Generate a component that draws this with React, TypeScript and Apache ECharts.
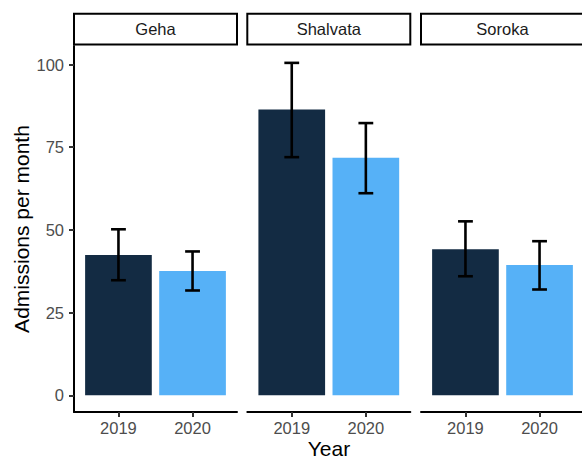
import React, { useEffect, useRef } from "react";
import * as echarts from "echarts";

const hospitals = ["Geha", "Shalvata", "Soroka"];
const years = ["2019", "2020"];
const admissions2019 = [42.4, 86.4, 44.2];
const admissions2020 = [37.6, 71.8, 39.4];
const lower2019 = [34.8, 72.0, 36.0];
const upper2019 = [50.2, 100.5, 52.6];
const lower2020 = [31.7, 61.1, 32.0];
const upper2020 = [43.5, 82.3, 46.6];
const yTicks = [0, 25, 50, 75, 100];
const yearColors = ["#132B43", "#56B1F7"];
const xTitle = "Year";
const yTitle = "Admissions per month";

const FONT = "'Liberation Sans', Arial, Helvetica, sans-serif";
const panelLefts = [74, 247.3, 421];
const panelWidth = 163;
const panelTop = 46;
const panelHeight = 366;
const unitPx = panelWidth / 2.2;

export default function App() {
  const ref = useRef<HTMLDivElement>(null);
  useEffect(() => {
    document.body.style.margin = "0";
    if (!ref.current) return;
    const chart = echarts.init(ref.current, null, { renderer: "svg" });

    const grid = hospitals.map((_, i) => ({
      left: panelLefts[i],
      top: panelTop,
      width: panelWidth,
      height: panelHeight,
      containLabel: false,
      outerBoundsMode: "none",
    }));

    const xAxis = hospitals.map((_, i) => ({
      type: "value",
      gridIndex: i,
      min: 0.4,
      max: 2.6,
      axisLine: { show: true, onZero: false, lineStyle: { color: "#000", width: 2 } },
      axisTick: {
        show: true,
        customValues: [1, 2],
        length: 5,
        lineStyle: { color: "#333333", width: 2 },
      },
      axisLabel: {
        customValues: [1, 2],
        formatter: (v: number) => years[Math.round(v) - 1] ?? "",
        color: "#4D4D4D",
        fontSize: 16.5,
        margin: 7,
        fontFamily: FONT,
      },
      splitLine: { show: false },
    }));

    const yAxis = hospitals.map((_, i) => ({
      type: "value",
      gridIndex: i,
      min: -5.03,
      max: 105.6,
      show: i === 0,
      axisLine: { show: true, onZero: false, lineStyle: { color: "#000", width: 2 } },
      axisTick: {
        show: true,
        customValues: yTicks,
        length: 5,
        lineStyle: { color: "#333333", width: 2 },
      },
      axisLabel: {
        customValues: yTicks,
        color: "#4D4D4D",
        fontSize: 16.5,
        margin: 10,
        fontFamily: FONT,
      },
      splitLine: { show: false },
    }));

    const barSeries = hospitals.map((_, i) => ({
      type: "bar",
      xAxisIndex: i,
      yAxisIndex: i,
      z: 2,
      barWidth: unitPx * 0.9,
      data: [
        { value: [1, admissions2019[i]], itemStyle: { color: yearColors[0] } },
        { value: [2, admissions2020[i]], itemStyle: { color: yearColors[1] } },
      ],
    }));

    const errSeries = hospitals.map((_, i) => ({
      type: "custom",
      xAxisIndex: i,
      yAxisIndex: i,
      z: 5,
      encode: { x: 0, y: [1, 2] },
      data: [
        [1, lower2019[i], upper2019[i]],
        [2, lower2020[i], upper2020[i]],
      ],
      renderItem: (_params: any, api: any) => {
        const x = api.value(0);
        const lo = api.value(1);
        const hi = api.value(2);
        const top = api.coord([x, hi]);
        const bot = api.coord([x, lo]);
        const half = api.size([0.1, 0])[0];
        const style = { stroke: "#000", lineWidth: 2.6, fill: "none" };
        return {
          type: "group",
          children: [
            { type: "line", shape: { x1: top[0], y1: top[1], x2: bot[0], y2: bot[1] }, style },
            { type: "line", shape: { x1: top[0] - half, y1: top[1], x2: top[0] + half, y2: top[1] }, style },
            { type: "line", shape: { x1: bot[0] - half, y1: bot[1], x2: bot[0] + half, y2: bot[1] }, style },
          ],
        };
      },
    }));

    const graphic: any[] = [];
    hospitals.forEach((h, i) => {
      graphic.push({
        type: "rect",
        shape: { x: panelLefts[i], y: 13.7, width: panelWidth, height: 30.8 },
        style: { fill: "#fff", stroke: "#000", lineWidth: 2 },
        silent: true,
      });
      graphic.push({
        type: "text",
        x: panelLefts[i] + panelWidth / 2,
        y: 29.3,
        style: {
          text: h,
          fill: "#1A1A1A",
          font: `16.5px ${FONT}`,
          textAlign: "center",
          textVerticalAlign: "middle",
        },
        silent: true,
      });
    });
    graphic.push({
      type: "text",
      x: 329,
      y: 448,
      style: {
        text: xTitle,
        fill: "#000",
        font: `21px ${FONT}`,
        textAlign: "center",
        textVerticalAlign: "middle",
      },
      silent: true,
    });
    graphic.push({
      type: "text",
      x: 21,
      y: 229,
      rotation: Math.PI / 2,
      style: {
        text: yTitle,
        fill: "#000",
        font: `21px ${FONT}`,
        textAlign: "center",
        textVerticalAlign: "middle",
      },
      silent: true,
    });

    chart.setOption({
      animation: false,
      backgroundColor: "#fff",
      textStyle: { fontFamily: FONT },
      grid,
      xAxis,
      yAxis,
      series: [...barSeries, ...errSeries],
      graphic,
    } as any);

    return () => chart.dispose();
  }, []);

  return <div ref={ref} style={{ width: 582, height: 459 }} />;
}
